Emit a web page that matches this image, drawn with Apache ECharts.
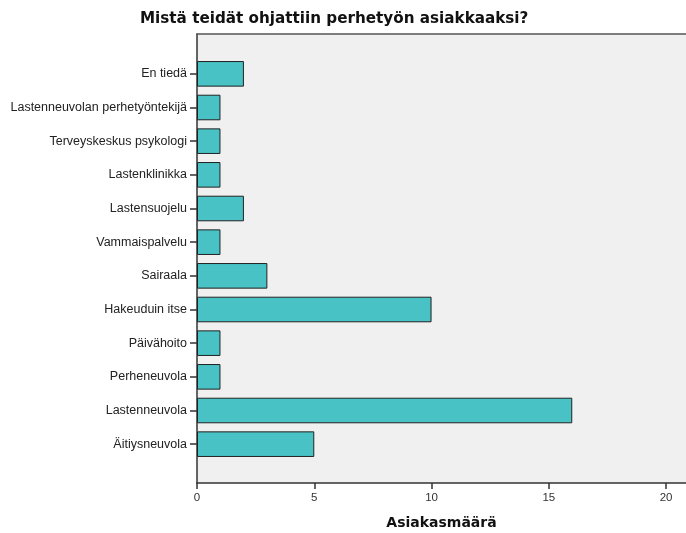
<!DOCTYPE html>
<html>
<head>
<meta charset="utf-8">
<script src="https://cdn.jsdelivr.net/npm/echarts@6/dist/echarts.min.js"></script>
<style>html,body{margin:0;padding:0;background:#fff}#c{width:686px;height:533px}</style>
</head>
<body>
<div id="c"></div>
<script>
const categories = ["En tiedä","Lastenneuvolan perhetyöntekijä","Terveyskeskus psykologi","Lastenklinikka","Lastensuojelu","Vammaispalvelu","Sairaala","Hakeuduin itse","Päivähoito","Perheneuvola","Lastenneuvola","Äitiysneuvola"];
const values = [2,1,1,1,2,1,3,10,1,1,16,5];
const xTicks = [0,5,10,15,20];
const titleText = "Mistä teidät ohjattiin perhetyön asiakkaaksi?";
const xName = "Asiakasmäärä";

const FONT = "Liberation Sans, Arial, sans-serif";
const BOLD = "DejaVu Sans, sans-serif";
const XMAX = 20.85;
const chart = echarts.init(document.getElementById('c'));
chart.setOption({
  animation: false,
  title: {
    text: titleText, left: 135, top: 7,
    textStyle: {fontFamily: BOLD, fontSize: 15.2, fontWeight: 'bold', color: '#111'}
  },
  grid: [
    {left: 197, right: 0, top: 34, bottom: 50, show: true, backgroundColor: '#f0f0f0', borderWidth: 0,
     containLabel: false, outerBoundsMode: 'none'},
    {left: 197, right: 0, top: 57, bottom: 72, containLabel: false, outerBoundsMode: 'none'}
  ],
  xAxis: [
    {
      gridIndex: 0, type: 'value', min: 0, max: XMAX, interval: 5,
      name: xName, nameLocation: 'middle', nameGap: 33,
      nameTextStyle: {fontFamily: BOLD, fontSize: 14, fontWeight: 'bold', color: '#111'},
      axisLine: {show: true, lineStyle: {color: '#333', width: 1.5}},
      axisTick: {show: true, length: 6, lineStyle: {color: '#333', width: 1.5}},
      axisLabel: {fontFamily: FONT, fontSize: 11.5, color: '#333', margin: 9, showMaxLabel: false,
        formatter: v => xTicks.includes(v) ? String(v) : ''},
      splitLine: {show: false}
    },
    {
      gridIndex: 0, type: 'value', position: 'top', min: 0, max: XMAX,
      axisLine: {show: true, lineStyle: {color: '#555', width: 1.5}},
      axisTick: {show: false}, axisLabel: {show: false}, splitLine: {show: false}
    },
    {
      gridIndex: 1, type: 'value', min: 0, max: XMAX, show: false
    }
  ],
  yAxis: [
    {
      gridIndex: 0, type: 'value', min: 0, max: 1,
      axisLine: {show: true, lineStyle: {color: '#333', width: 1.5}},
      axisTick: {show: false}, axisLabel: {show: false}, splitLine: {show: false}
    },
    {
      gridIndex: 1, type: 'category', data: categories, inverse: true,
      axisLine: {show: false},
      axisTick: {show: true, alignWithLabel: true, length: 7, lineStyle: {color: '#333', width: 1.5}},
      axisLabel: {fontFamily: FONT, fontSize: 12.5, color: '#222', margin: 10}
    }
  ],
  series: [{
    type: 'bar', xAxisIndex: 2, yAxisIndex: 1, data: values,
    barCategoryGap: '24%',
    itemStyle: {color: '#48c2c5', borderColor: '#222', borderWidth: 1}
  }]
});
</script>
</body>
</html>
